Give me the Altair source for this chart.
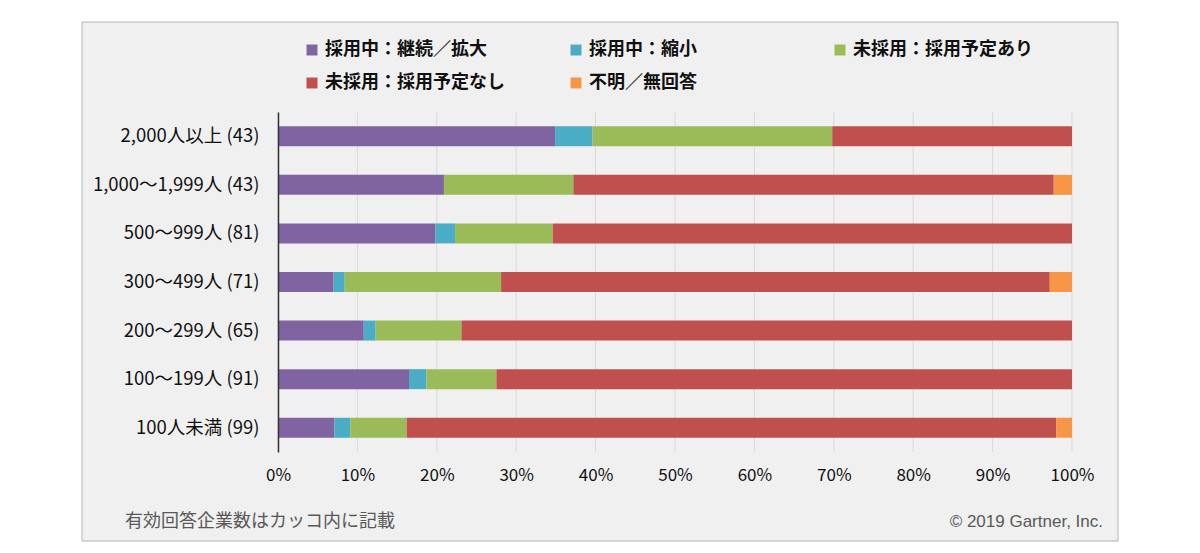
import altair as alt
import pandas as pd

categories = ["2,000人以上 (43)", "1,000～1,999人 (43)", "500～999人 (81)",
              "300～499人 (71)", "200～299人 (65)", "100～199人 (91)", "100人未満 (99)"]
series_names = ["採用中：継続／拡大", "採用中：縮小", "未採用：採用予定あり",
                "未採用：採用予定なし", "不明／無回答"]
series_colors = ["#8064A2", "#4BACC6", "#9BBB59", "#C0504D", "#F79646"]

s_keep = [34.9, 20.9, 19.8, 7.0, 10.8, 16.5, 7.1]
s_shrink = [4.7, 0.0, 2.5, 1.4, 1.5, 2.2, 2.0]
s_plan = [30.2, 16.3, 12.3, 19.7, 10.8, 8.8, 7.1]
s_noplan = [30.2, 60.5, 65.4, 69.1, 76.9, 72.5, 81.8]
s_unknown = [0.0, 2.3, 0.0, 2.8, 0.0, 0.0, 2.0]
series_values = [s_keep, s_shrink, s_plan, s_noplan, s_unknown]

tick_values = [0, 10, 20, 30, 40, 50, 60, 70, 80, 90, 100]
note_left = "有効回答企業数はカッコ内に記載"
note_right = "© 2019 Gartner, Inc."

rows = []
for si, (name, vals) in enumerate(zip(series_names, series_values)):
    for cat, v in zip(categories, vals):
        rows.append({"cat": cat, "series": name, "order": si, "value": v})
df = pd.DataFrame(rows)

W, H = 794, 340
FONT = "Noto Sans CJK JP"
one = pd.DataFrame({"k": [0]})

panel = alt.Chart(one).mark_rect(fill="#F0F0F0", stroke="#B4B4B4", strokeWidth=1).encode(
    x=alt.value(-196), x2=alt.value(840), y=alt.value(-90), y2=alt.value(429)
)

grid = alt.Chart(pd.DataFrame({"t": tick_values})).mark_rule(color="#D9D9D9", strokeWidth=1).encode(
    x=alt.X("t:Q", scale=alt.Scale(domain=[0, 100], nice=False)),
    y=alt.value(0), y2=alt.value(H)
)

bars = alt.Chart(df).mark_bar(size=20).encode(
    y=alt.Y("cat:N", sort=categories,
            scale=alt.Scale(paddingInner=0.59, paddingOuter=0.295),
            axis=alt.Axis(title=None, ticks=False, domain=True, domainColor="#333333",
                          domainWidth=1.5, labelFont=FONT, labelFontSize=18.5,
                          labelColor="#111111", labelPadding=19, labelLimit=300, zindex=2)),
    x=alt.X("value:Q", stack="zero",
            scale=alt.Scale(domain=[0, 100], nice=False),
            axis=alt.Axis(title=None, values=tick_values, labelExpr="datum.value + '%'",
                          grid=False, ticks=False, domain=False, labelFlush=False,
                          labelFont=FONT, labelFontSize=17, labelColor="#111111",
                          labelPadding=15, zindex=2)),
    color=alt.Color("series:N", sort=series_names,
                    scale=alt.Scale(domain=series_names, range=series_colors),
                    legend=alt.Legend(title=None, orient="none", legendX=25, legendY=-71,
                                      direction="horizontal",
                                      columns=3, gridAlign="all", columnPadding=62,
                                      rowPadding=15, symbolType="square", symbolSize=120,
                                      symbolStrokeWidth=0, labelFont=FONT, labelFontSize=18,
                                      labelFontWeight="bold", labelColor="#111111",
                                      labelLimit=400, labelOffset=4)),
    order=alt.Order("order:Q")
)

txt_left = alt.Chart(one).mark_text(align="left", baseline="middle", font=FONT, fontSize=18,
                                    color="#595959").encode(
    x=alt.value(-153), y=alt.value(410), text=alt.value(note_left))
txt_right = alt.Chart(one).mark_text(align="right", baseline="middle", font="Liberation Sans",
                                     fontSize=17, color="#595959").encode(
    x=alt.value(825), y=alt.value(410), text=alt.value(note_right))

chart = alt.layer(panel, grid, bars, txt_left, txt_right).properties(
    width=W, height=H,
    autosize=alt.AutoSizeParams(type="none"),
    padding={"left": 278, "top": 112, "right": 128, "bottom": 101},
    background="white"
).configure_view(stroke=None)

chart.save("out.html", embed_options={"renderer": "svg", "actions": False})
